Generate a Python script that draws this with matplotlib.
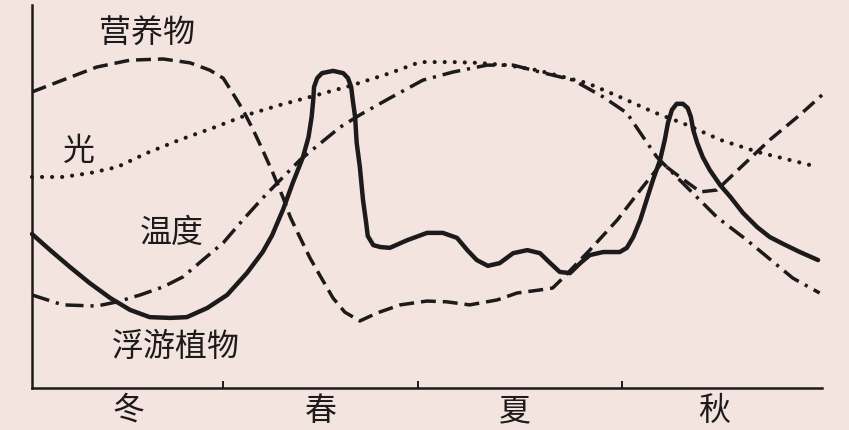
import matplotlib
matplotlib.use("Agg")
import matplotlib.pyplot as plt

plt.rcParams['font.family'] = ['Noto Sans CJK SC', 'DejaVu Sans']

# Axe x : 0-100 (une année), axe y : 0-100 (valeurs relatives)
saisons = ['冬', '春', '夏', '秋']
pos_saisons = [12.2, 36.5, 61.1, 86.3]
limites_saisons = [24.2, 48.9, 74.7]

# Nutriments (tirets)
x_nutriments = [0, 3.9, 8.2, 12.4, 16.6, 20.0, 22.5, 24.2, 25.4, 26.7, 28.0, 29.2, 30.5,
                31.8, 32.7, 33.9, 35.2, 36.5, 38.1, 39.6, 41.5, 43.7, 46.6, 50.0, 52.5,
                55.4, 58.9, 61.4, 64.3, 65.9, 67.2, 70.6, 74.1, 77.0, 79.7, 82.0, 84.6,
                86.7, 89.6, 93.4, 97.2, 100]
y_nutriments = [77.3, 80.4, 83.8, 85.6, 85.9, 84.9, 83.0, 80.9, 77.0, 72.6, 67.4, 62.1, 56.1,
                49.6, 44.6, 39.4, 33.9, 29.2, 23.5, 19.8, 17.5, 19.6, 21.7, 22.7, 22.5,
                21.7, 23.0, 24.8, 25.6, 26.1, 28.7, 36.0, 43.9, 51.7, 58.7, 55.1, 51.2,
                51.7, 57.4, 64.8, 71.3, 76.5]

# Température (trait-point)
x_temperature = [0, 3.9, 8.2, 10.8, 13.7, 16.6, 19.1, 21.6, 24.2, 26.7, 29.2, 31.8, 33.9,
                 39.0, 41.5, 45.3, 49.5, 53.3, 57.6, 60.9, 64.3, 68.5, 72.3, 75.3, 77.6,
                 79.1, 81.6, 86.7, 90.5, 96.3, 99.7]
y_temperature = [24.3, 21.7, 21.4, 22.5, 24.3, 26.4, 29.0, 33.4, 37.9, 43.9, 49.6, 55.1, 59.5,
                 68.1, 71.3, 75.7, 80.4, 82.5, 84.3, 84.3, 82.5, 80.4, 76.0, 71.8, 64.8,
                 60.3, 55.1, 44.6, 38.6, 28.7, 24.8]

# Lumière (pointillés)
x_lumiere = [0, 3.9, 7.3, 10.8, 14.6, 18.7, 22.9, 27.2, 31.4, 35.2, 40.3, 45.3, 49.1,
             53.3, 56.3, 60.1, 63.9, 70.3, 74.4, 78.6, 82.9, 87.1, 91.9, 99.5]
y_lumiere = [55.1, 55.1, 56.1, 57.7, 61.4, 64.8, 67.9, 71.3, 73.9, 76.0, 78.9, 82.2, 85.1,
             85.1, 84.9, 84.3, 83.0, 79.6, 76.0, 72.1, 68.7, 64.8, 61.6, 57.7]

# Phytoplancton (trait plein)
x_phyto = [0, 2.3, 4.8, 7.3, 9.9, 12.4, 14.9, 17.5, 19.6, 22.2, 24.7, 27.2, 29.2, 30.4,
           31.8, 33.0, 34.3, 35.0, 35.4, 35.6, 35.7, 36.1, 36.7, 38.1, 39.4, 40.0, 40.4,
           40.6, 40.9, 41.1, 41.5, 41.9, 42.3, 42.5, 43.2, 44.1, 45.3, 47.5, 50.0, 52.0,
           53.8, 55.1, 56.3, 57.7, 59.2, 60.9, 62.7, 64.3, 65.6, 66.8, 68.1, 69.4, 70.6,
           72.3, 74.4, 75.3, 76.1, 77.0, 77.8, 78.6, 79.5, 80.1, 80.5, 81.0, 81.6, 82.4,
           83.0, 83.4, 83.7, 84.2, 84.9, 85.8, 87.1, 88.4, 90.0, 91.8, 93.4, 95.1, 97.2,
           99.5]
y_phyto = [40.2, 36.0, 31.6, 27.4, 23.5, 20.4, 18.5, 18.3, 18.5, 20.9, 24.3, 30.0, 35.5, 39.9,
           46.7, 53.5, 60.3, 65.5, 70.8, 75.2, 78.6, 80.9, 82.2, 82.8, 82.2, 80.9, 78.6,
           75.2, 70.8, 64.0, 57.7, 49.1, 43.1, 39.7, 37.3, 36.8, 36.6, 38.6, 40.5, 40.5,
           39.2, 36.0, 33.4, 31.9, 32.6, 35.2, 36.0, 35.2, 32.6, 30.3, 30.0, 32.6, 34.7,
           35.5, 35.5, 36.6, 39.4, 43.9, 49.1, 54.3, 59.5, 64.8, 69.2, 72.6, 74.2, 74.2,
           73.1, 70.8, 67.4, 64.0, 60.3, 56.9, 53.0, 49.9, 45.7, 42.0, 39.4, 37.6, 35.5,
           33.4]

fond = '#f3e4df'
encre = '#1c1a1a'

fig = plt.figure(figsize=(8.49, 4.30), dpi=100, facecolor=fond)
ax = fig.add_axes([32 / 849, 1 - 388 / 430, 790 / 849, 383 / 430])
ax.set_facecolor(fond)

ax.plot(x_nutriments, y_nutriments, color=encre, lw=2.5,
        linestyle=(0, (4.3, 2.0)), clip_on=False)
ax.plot(x_temperature, y_temperature, color=encre, lw=2.5,
        linestyle=(0, (5.2, 2.0, 0.9, 2.0)), clip_on=False)
ax.plot(x_lumiere, y_lumiere, color=encre, lw=3.0,
        linestyle=(0, (0.01, 2.4)), dash_capstyle='round', clip_on=False)
ax.plot(x_phyto, y_phyto, color=encre, lw=3.2, solid_joinstyle='round',
        solid_capstyle='round', clip_on=False)

# Étiquettes des courbes
style_texte = dict(fontsize=23, fontweight='medium', ha='center', va='center', color=encre)
ax.text(14.6, 92.4, '营养物', **style_texte)
ax.text(5.9, 61.9, '光', **style_texte)
ax.text(17.7, 40.5, '温度', **style_texte)
ax.text(18.2, 10.7, '浮游植物', **style_texte)

ax.set_xlim(0, 100)
ax.set_ylim(0, 100)
for cote in ['top', 'right']:
    ax.spines[cote].set_visible(False)
for cote in ['left', 'bottom']:
    ax.spines[cote].set_linewidth(1.8)
    ax.spines[cote].set_color(encre)

ax.set_yticks([])
ax.set_xticks(limites_saisons)
ax.set_xticklabels([])
ax.tick_params(axis='x', which='major', direction='in', length=5, width=1.4, color=encre)
ax.set_xticks(pos_saisons, minor=True)
ax.set_xticklabels(saisons, minor=True, fontsize=23, fontweight='medium', color=encre)
ax.tick_params(axis='x', which='minor', length=0, pad=5)

plt.savefig('out.png', dpi=100, facecolor=fond)
